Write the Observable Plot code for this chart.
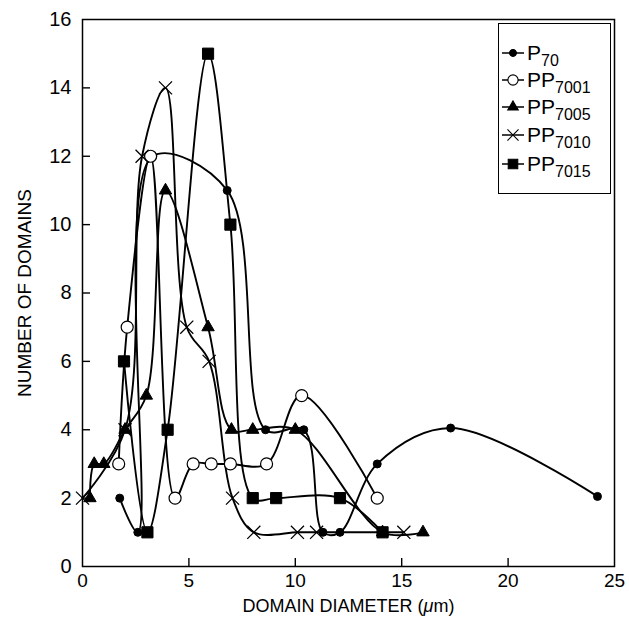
<!DOCTYPE html>
<html>
<head>
<meta charset="utf-8">
<script src="https://cdn.jsdelivr.net/npm/d3@7"></script>
<script src="https://cdn.jsdelivr.net/npm/@observablehq/plot@0.6"></script>
<style>
  html, body { margin: 0; padding: 0; background: white; }
  #wrap { position: relative; width: 629px; height: 626px; font-family: "Liberation Sans", Arial, Helvetica, sans-serif; }
  #legend { position: absolute; left: 498px; top: 23px; width: 113px; height: 171px; border: 1.5px solid black; background: white; box-sizing: border-box; }
  .entry { position: absolute; left: 2px; height: 26px; display: flex; align-items: center; font-size: 21px; color: black; white-space: nowrap; }
  .entry svg { margin-right: 2px; }
  .entry sub { font-size: 16px; vertical-align: -6px; line-height: 0; }
</style>
</head>
<body>
<div id="wrap"></div>
<script>
// ---- data ----
const xTicks = [0, 5, 10, 15, 20, 25];
const xInnerTicks = [5, 10, 15, 20];
const yTicks = [0, 2, 4, 6, 8, 10, 12, 14, 16];
const yInnerTicks = [2, 4, 6, 8, 10, 12, 14];

const seriesNames = ["P70", "PP7001", "PP7005", "PP7010", "PP7015"];
const seriesBase = ["P", "PP", "PP", "PP", "PP"];
const seriesSub = ["70", "7001", "7005", "7010", "7015"];

const p70X = [1.75, 2.6, 3.3, 6.8, 8.6, 10.4, 11.3, 12.1, 13.85, 17.3, 24.2];
const p70Y = [2, 1, 12, 11, 4, 4, 1, 1, 3, 4.05, 2.05];

const pp7001X = [1.7, 2.1, 3.2, 4.35, 5.2, 6.05, 6.95, 8.65, 10.3, 13.85];
const pp7001Y = [3, 7, 12, 2, 3, 3, 3, 3, 5, 2];

const pp7005X = [0.35, 0.55, 1, 2, 3, 3.9, 5.9, 7, 8, 10, 14.1, 16];
const pp7005Y = [2, 3, 3, 4, 5, 11, 7, 4, 4, 4, 1, 1];

const pp7010X = [0, 2, 2.8, 3.9, 4.9, 5.95, 7.05, 8.05, 10.1, 11, 15.1];
const pp7010Y = [2, 4, 12, 14, 7, 6, 2, 1, 1, 1, 1];

const pp7015X = [1.95, 3.05, 4, 5.9, 6.95, 8, 9.1, 12.1, 14.1];
const pp7015Y = [6, 1, 4, 15, 10, 2, 2, 2, 1];

const xs = [p70X, pp7001X, pp7005X, pp7010X, pp7015X];
const ys = [p70Y, pp7001Y, pp7005Y, pp7010Y, pp7015Y];

// marker styles
const symbols = ["circle", "circle", "triangle", "times", "square"];
const radii = [4, 6, 4.6, 6, 6.3];
const fills = ["black", "white", "black", "none", "black"];

const rows = [];
seriesNames.forEach((s, i) => xs[i].forEach((x, j) => rows.push({series: s, i, x, y: ys[i][j]})));

const dotMarks = seriesNames.map((s, i) => Plot.dot(rows.filter(d => d.series === s), {
  x: "x", y: "y", symbol: () => symbols[i], r: radii[i],
  fill: fills[i], stroke: "black", strokeWidth: symbols[i] === "times" ? 1.3 : (i === 1 ? 1.2 : 1)
}));

const W = 629, H = 626, ML = 82, MR = 15, MT = 19, MB = 60;
const tickLen = 8;

const chart = Plot.plot({
  width: W, height: H,
  marginLeft: ML, marginRight: MR, marginTop: MT, marginBottom: MB,
  x: {domain: [0, 25]},
  y: {domain: [0, 16]},
  symbol: {type: "identity"},
  style: {fontFamily: "'Liberation Sans', Arial, Helvetica, sans-serif", fontSize: "20px", color: "black", background: "white"},
  marks: [
    Plot.frame({stroke: "black", strokeWidth: 1.5}),
    Plot.axisX({ticks: xTicks, tickSize: 0, tickPadding: 7, label: null, fontSize: 19}),
    Plot.tickX(xInnerTicks, {x: d => d, insetTop: (H - MT - MB) - tickLen, stroke: "black", strokeWidth: 1.4}),
    Plot.axisY({ticks: yTicks, tickSize: 0, tickPadding: 11, label: null, fontSize: 20}),
    Plot.tickY(yInnerTicks, {y: d => d, insetRight: (W - ML - MR) - tickLen, stroke: "black", strokeWidth: 1.4}),
    Plot.text(["DOMAIN DIAMETER (μm)"], {frameAnchor: "bottom", dy: 45, fontSize: 18}),
    Plot.text(["NUMBER OF DOMAINS"], {frameAnchor: "left", textAnchor: "middle", dx: -58, rotate: -90, fontSize: 19}),
    Plot.line(rows, {x: "x", y: "y", z: "series", curve: "catmull-rom", stroke: "black", strokeWidth: 1.9}),
    ...dotMarks
  ]
});

const wrap = document.getElementById("wrap");
wrap.appendChild(chart);

// italic mu in x label
chart.querySelectorAll("text").forEach(t => {
  if (t.textContent === "DOMAIN DIAMETER (μm)") {
    t.innerHTML = 'DOMAIN DIAMETER (<tspan font-style="italic">μ</tspan>m)';
  }
});

// legend
const legend = document.createElement("div");
legend.id = "legend";
const entryTops = [16, 43, 70, 98, 127];
seriesNames.forEach((s, i) => {
  const e = document.createElement("div");
  e.className = "entry";
  e.style.top = entryTops[i] + "px";
  const ns = "http://www.w3.org/2000/svg";
  const sv = document.createElementNS(ns, "svg");
  sv.setAttribute("width", 24); sv.setAttribute("height", 26);
  const ln = document.createElementNS(ns, "line");
  ln.setAttribute("x1", 1); ln.setAttribute("x2", 23); ln.setAttribute("y1", 13); ln.setAttribute("y2", 13);
  ln.setAttribute("stroke", "black"); ln.setAttribute("stroke-width", 1.5);
  sv.appendChild(ln);
  const sym = d3.symbol().type({circle: d3.symbolCircle, triangle: d3.symbolTriangle, times: d3.symbolTimes, square: d3.symbolSquare}[symbols[i]]).size(Math.PI * (radii[i] * 0.85) ** 2);
  const p = document.createElementNS(ns, "path");
  p.setAttribute("d", sym());
  p.setAttribute("transform", "translate(12,13)");
  p.setAttribute("fill", fills[i]);
  p.setAttribute("stroke", "black");
  p.setAttribute("stroke-width", 1.1);
  sv.appendChild(p);
  e.appendChild(sv);
  const label = document.createElement("span");
  label.innerHTML = seriesBase[i] + "<sub>" + seriesSub[i] + "</sub>";
  e.appendChild(label);
  legend.appendChild(e);
});
wrap.appendChild(legend);
</script>
</body>
</html>
